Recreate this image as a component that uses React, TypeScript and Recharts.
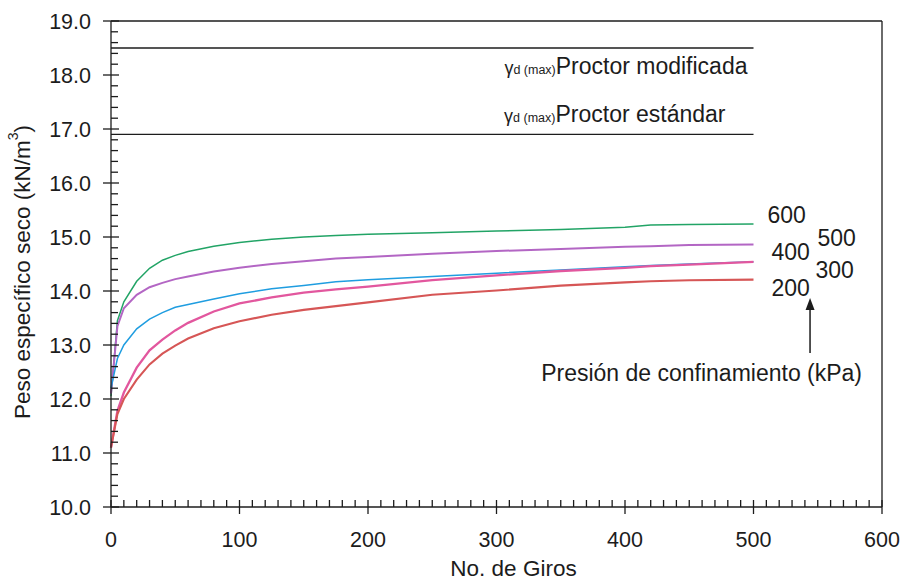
import { LineChart, Line, XAxis, YAxis, ReferenceLine, LabelList } from "recharts";

const giros = [0, 5, 10, 20, 30, 40, 50, 60, 80, 100, 125, 150, 175, 200, 250, 300, 350, 400, 420, 450, 500];
const p600 = [12.05, 13.45, 13.8, 14.18, 14.42, 14.57, 14.66, 14.73, 14.83, 14.9, 14.96, 15.0, 15.03, 15.05, 15.08, 15.11, 15.14, 15.18, 15.22, 15.23, 15.24];
const p500 = [12.1, 13.35, 13.68, 13.93, 14.07, 14.15, 14.22, 14.27, 14.36, 14.43, 14.5, 14.55, 14.6, 14.63, 14.69, 14.74, 14.78, 14.82, 14.83, 14.85, 14.86];
const p400 = [12.2, 12.75, 13.0, 13.3, 13.48, 13.6, 13.7, 13.75, 13.85, 13.95, 14.04, 14.1, 14.17, 14.21, 14.27, 14.33, 14.39, 14.45, 14.47, 14.5, 14.54];
const p300 = [11.1, 11.78, 12.12, 12.58, 12.9, 13.1, 13.27, 13.41, 13.62, 13.77, 13.88, 13.97, 14.03, 14.08, 14.2, 14.29, 14.37, 14.43, 14.46, 14.49, 14.54];
const p200 = [11.1, 11.72, 12.0, 12.36, 12.64, 12.84, 12.99, 13.12, 13.31, 13.44, 13.56, 13.65, 13.72, 13.79, 13.93, 14.01, 14.1, 14.16, 14.18, 14.2, 14.21];

const yMajor = [10, 11, 12, 13, 14, 15, 16, 17, 18, 19];
const xMajor = [0, 100, 200, 300, 400, 500, 600];
const proctorModificada = 18.5;
const proctorEstandar = 16.9;
const arrowAt = { x: 544, from: 12.85, to: 13.87 };

const yTicks = Array.from({ length: 46 }, (_, i) => Math.round((10 + i * 0.2) * 10) / 10);
const xTicks = Array.from({ length: 61 }, (_, i) => i * 10);

const data = giros.map((g, i) => ({
  giros: g,
  p600: p600[i],
  p500: p500[i],
  p400: p400[i],
  p300: p300[i],
  p200: p200[i],
}));

const FONT = "'Liberation Sans', Arial, sans-serif";
const INK = "#1c1c1c";

const series = [
  { key: "p600", name: "600", color: "#22a466", width: 1.5, dx: 14, dy: -1 },
  { key: "p500", name: "500", color: "#b366c4", width: 2, dx: 64, dy: 1 },
  { key: "p400", name: "400", color: "#1f9de0", width: 1.5, dx: 18, dy: -2 },
  { key: "p300", name: "300", color: "#e2579e", width: 2.3, dx: 62, dy: 16 },
  { key: "p200", name: "200", color: "#d65656", width: 2.1, dx: 18, dy: 16 },
];

const isMajor = (v: number, list: number[]) => list.some((m) => Math.abs(m - v) < 1e-6);

function YTick(props: any) {
  const { x, y, payload } = props;
  const v = payload.value;
  if (isMajor(v, yMajor)) {
    return (
      <g>
        <line x1={x - 8} x2={x + 8} y1={y} y2={y} stroke={INK} strokeWidth={1.3} />
        <text x={x - 20} y={y + 8} textAnchor="end" fontSize={21.5} fontFamily={FONT} fill={INK}>
          {v.toFixed(1)}
        </text>
      </g>
    );
  }
  return <line x1={x} x2={x + 7} y1={y} y2={y} stroke={INK} strokeWidth={1.3} />;
}

function XTick(props: any) {
  const { x, y, payload } = props;
  const v = payload.value;
  if (isMajor(v, xMajor)) {
    return (
      <g>
        <line x1={x} x2={x} y1={y - 7} y2={y + 7} stroke={INK} strokeWidth={1.3} />
        <text x={x} y={y + 40} textAnchor="middle" fontSize={21.5} fontFamily={FONT} fill={INK}>
          {v}
        </text>
      </g>
    );
  }
  return <line x1={x} x2={x} y1={y - 7} y2={y} stroke={INK} strokeWidth={1.3} />;
}

function ProctorLine(label: string, below: boolean, shift: number) {
  return (p: any) => {
    const x1 = Math.min(p.x1, p.x2);
    const x2 = Math.max(p.x1, p.x2);
    const y = p.y1;
    return (
      <g>
        <line x1={x1} x2={x2} y1={y} y2={y} stroke={INK} strokeWidth={1.4} />
        <text x={x2 - shift} y={below ? y + 26 : y - 12} textAnchor="end" fontFamily={FONT} fill={INK}>
          <tspan fontSize={18}>γ</tspan>
          <tspan fontSize={12.5}>d (max)</tspan>
          <tspan fontSize={23}>{label}</tspan>
        </text>
      </g>
    );
  };
}

function ArrowShape(p: any) {
  const x = p.x1;
  const yTop = Math.min(p.y1, p.y2);
  const yBot = Math.max(p.y1, p.y2);
  return (
    <g>
      <line x1={x} x2={x} y1={yTop + 8} y2={yBot} stroke={INK} strokeWidth={1.5} />
      <polygon points={`${x},${yTop} ${x - 4.5},${yTop + 12} ${x + 4.5},${yTop + 12}`} fill={INK} />
      <text x={x + 52} y={yBot + 28} textAnchor="end" fontSize={23} fontFamily={FONT} fill={INK}>
        Presión de confinamiento (kPa)
      </text>
    </g>
  );
}

function endLabel(s: (typeof series)[number]) {
  return (p: any) => {
    if (p.index !== data.length - 1) return null;
    return (
      <text x={p.x + s.dx} y={p.y + s.dy} fontSize={23} fontFamily={FONT} fill={INK}>
        {s.name}
      </text>
    );
  };
}

function YLabel(p: any) {
  const vb = p.viewBox;
  const cx = 22;
  const cy = vb.y + vb.height / 2 + 8;
  return (
    <text
      x={cx}
      y={cy}
      transform={`rotate(-90 ${cx} ${cy})`}
      textAnchor="middle"
      dominantBaseline="central"
      fontSize={22.5}
      fontFamily={FONT}
      fill={INK}
    >
      Peso específico seco (kN/m
      <tspan fontSize={14} dy={-9}>3</tspan>
      <tspan dy={9}>)</tspan>
    </text>
  );
}

function XLabel(p: any) {
  const vb = p.viewBox;
  return (
    <text x={vb.x + vb.width / 2 + 17} y={576} textAnchor="middle" fontSize={22.5} fontFamily={FONT} fill={INK}>
      No. de Giros
    </text>
  );
}

export default function App() {
  return (
    <div style={{ position: "absolute", left: 0, top: 0, background: "#fff" }}>
      <LineChart width={903} height={581} data={data} margin={{ top: 21, right: 21, bottom: 30, left: 0 }}>
        <XAxis
          dataKey="giros"
          type="number"
          domain={[0, 600]}
          ticks={xTicks}
          interval={0}
          tickSize={0}
          tickMargin={0}
          tick={XTick}
          height={44}
          stroke={INK}
          strokeWidth={1.3}
          label={XLabel}
        />
        <YAxis
          type="number"
          domain={[10, 19]}
          ticks={yTicks}
          interval={0}
          tickSize={0}
          tickMargin={0}
          tick={YTick}
          width={111}
          stroke={INK}
          strokeWidth={1.3}
          allowDataOverflow
          label={YLabel}
        />
        <ReferenceLine y={19} stroke={INK} strokeWidth={1.3} />
        <ReferenceLine x={600} stroke={INK} strokeWidth={1.3} />
        <ReferenceLine
          segment={[{ x: 0, y: proctorModificada }, { x: 500, y: proctorModificada }]}
          shape={ProctorLine("Proctor modificada", true, 6)}
        />
        <ReferenceLine
          segment={[{ x: 0, y: proctorEstandar }, { x: 500, y: proctorEstandar }]}
          shape={ProctorLine("Proctor estándar", false, 28)}
        />
        <ReferenceLine
          segment={[{ x: arrowAt.x, y: arrowAt.from }, { x: arrowAt.x, y: arrowAt.to }]}
          shape={ArrowShape}
        />
        {series.map((s) => (
          <Line
            key={s.key}
            dataKey={s.key}
            type="linear"
            stroke={s.color}
            strokeWidth={s.width}
            dot={false}
            isAnimationActive={false}
          >
            <LabelList dataKey={s.key} content={endLabel(s)} />
          </Line>
        ))}
      </LineChart>
    </div>
  );
}
